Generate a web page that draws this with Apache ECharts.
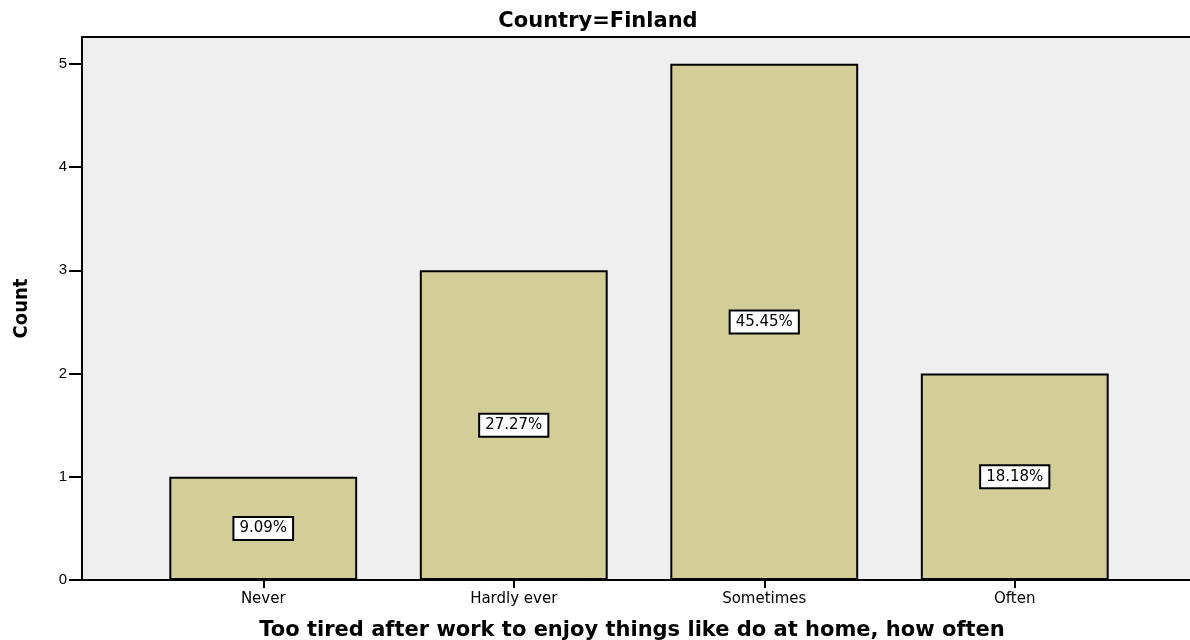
<!DOCTYPE html>
<html>
<head>
<meta charset="utf-8">
<script src="https://cdn.jsdelivr.net/npm/echarts@6/dist/echarts.min.js"></script>
<style>
  html, body { margin: 0; padding: 0; background: #fff; }
  #chart { width: 1190px; height: 640px; }
</style>
</head>
<body>
<div id="chart"></div>
<script>
// data
const categories = ['Never', 'Hardly ever', 'Sometimes', 'Often'];
const counts = [1, 3, 5, 2];
const percents = ['9.09%', '27.27%', '45.45%', '18.18%'];
const yTicks = [0, 1, 2, 3, 4, 5];

const chart = echarts.init(document.getElementById('chart'));

const font = "'Liberation Sans', Arial, sans-serif";
const wide = "'DejaVu Sans', sans-serif";
const yMax = 5.26;

const option = {
  animation: false,
  title: {
    text: 'Country=Finland',
    left: 593,
    textAlign: 'center',
    top: 6,
    textStyle: { fontFamily: wide, fontWeight: 'bold', fontSize: 21, color: '#000' }
  },
  grid: [
    // frame + background
    { left: 82, right: -6, top: 37, bottom: 60, outerBoundsMode: 'none',
      show: true, backgroundColor: '#efefef', borderColor: '#000', borderWidth: 2 },
    // bars
    { left: 138, right: 50, top: 37, bottom: 60, outerBoundsMode: 'none' }
  ],
  xAxis: [
    {
      gridIndex: 0, type: 'value', min: 0, max: 1,
      axisLine: { show: true, onZero: false, lineStyle: { color: '#000', width: 2 } },
      axisTick: { show: false }, axisLabel: { show: false }, splitLine: { show: false }
    },
    {
      gridIndex: 1, type: 'category', data: categories,
      axisLine: { show: false },
      axisTick: { show: true, alignWithLabel: true, length: 8, lineStyle: { color: '#000', width: 2 } },
      axisLabel: { fontFamily: wide, fontSize: 15, color: '#000', margin: 12 },
      name: 'Too tired after work to enjoy things like do at home, how often',
      nameLocation: 'middle',
      nameGap: 40,
      nameTextStyle: { fontFamily: wide, fontWeight: 'bold', fontSize: 21, color: '#000', padding: [0, 14, 0, 0] }
    }
  ],
  yAxis: [
    {
      gridIndex: 0, type: 'value', min: 0, max: yMax,
      axisLine: { show: true, lineStyle: { color: '#000', width: 2 } },
      axisTick: { show: true, length: 13, lineStyle: { color: '#000', width: 2 },
        customValues: yTicks },
      axisLabel: { fontFamily: font, fontSize: 15, color: '#000', margin: 15,
        customValues: yTicks },
      splitLine: { show: false },
      name: 'Count',
      nameLocation: 'middle',
      nameGap: 50,
      nameRotate: 90,
      nameTextStyle: { fontFamily: "'DejaVu Sans Condensed', 'Liberation Sans Narrow', sans-serif", fontWeight: 'bold', fontSize: 20, color: '#000' }
    },
    {
      gridIndex: 1, type: 'value', min: 0, max: yMax,
      show: false
    }
  ],
  series: [
    {
      type: 'bar',
      xAxisIndex: 1,
      yAxisIndex: 1,
      data: counts,
      barWidth: '75%',
      itemStyle: { color: '#d3ce98', borderColor: '#000', borderWidth: 2 },
      label: {
        show: true,
        position: 'inside',
        formatter: p => percents[p.dataIndex],
        fontFamily: wide,
        fontSize: 15,
        color: '#000',
        backgroundColor: '#fff',
        borderColor: '#000',
        borderWidth: 2,
        padding: [4, 5, 2, 5]
      }
    }
  ]
};

chart.setOption(option);
</script>
</body>
</html>
